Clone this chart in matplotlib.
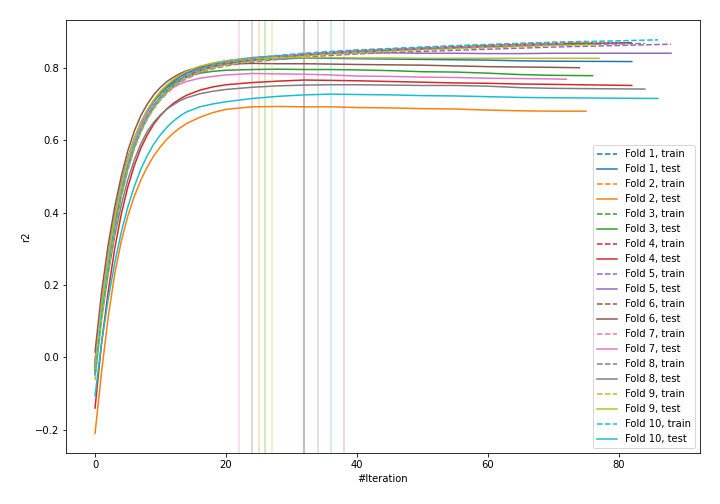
import matplotlib
matplotlib.use("Agg")
import matplotlib.pyplot as plt

knots = [0, 1, 2, 3, 4, 5, 6, 7, 8, 9, 10, 11, 12, 13, 14, 16, 18, 20, 24, 28, 32, 36, 40, 45, 50, 55, 60, 65, 70]
end_iter = [82, 75, 76, 82, 88, 74, 72, 84, 77, 86]
best_iter = [32, 25, 26, 32, 38, 24, 22, 34, 27, 36]

test_r2 = [
    [-0.02, 0.14, 0.27, 0.38, 0.47, 0.54, 0.60, 0.645, 0.68, 0.708, 0.73, 0.748, 0.763, 0.775, 0.785, 0.799, 0.809, 0.815, 0.821, 0.824, 0.827, 0.826, 0.825, 0.824, 0.823, 0.822, 0.821, 0.819, 0.818, 0.817],
    [-0.21, -0.04, 0.11, 0.23, 0.32, 0.39, 0.445, 0.49, 0.527, 0.557, 0.582, 0.603, 0.62, 0.634, 0.646, 0.663, 0.676, 0.685, 0.692, 0.693, 0.692, 0.692, 0.690, 0.689, 0.687, 0.686, 0.683, 0.681, 0.680, 0.680],
    [-0.01, 0.15, 0.28, 0.39, 0.48, 0.55, 0.605, 0.648, 0.682, 0.708, 0.729, 0.746, 0.759, 0.769, 0.776, 0.785, 0.790, 0.793, 0.795, 0.796, 0.795, 0.795, 0.794, 0.792, 0.789, 0.788, 0.785, 0.781, 0.779, 0.778],
    [-0.14, 0.04, 0.18, 0.30, 0.395, 0.47, 0.53, 0.578, 0.615, 0.645, 0.668, 0.687, 0.702, 0.714, 0.724, 0.738, 0.747, 0.753, 0.759, 0.763, 0.766, 0.765, 0.764, 0.762, 0.760, 0.758, 0.757, 0.755, 0.754, 0.751],
    [-0.01, 0.15, 0.28, 0.39, 0.478, 0.548, 0.604, 0.648, 0.683, 0.711, 0.733, 0.751, 0.766, 0.778, 0.788, 0.802, 0.812, 0.819, 0.828, 0.833, 0.836, 0.839, 0.841, 0.841, 0.840, 0.840, 0.839, 0.839, 0.840, 0.840],
    [0.015, 0.18, 0.31, 0.415, 0.50, 0.57, 0.625, 0.668, 0.70, 0.726, 0.746, 0.762, 0.774, 0.784, 0.792, 0.802, 0.807, 0.810, 0.812, 0.811, 0.811, 0.810, 0.809, 0.808, 0.807, 0.805, 0.803, 0.802, 0.801, 0.800],
    [-0.02, 0.15, 0.28, 0.385, 0.472, 0.54, 0.595, 0.638, 0.672, 0.698, 0.718, 0.734, 0.746, 0.755, 0.762, 0.771, 0.776, 0.780, 0.784, 0.783, 0.782, 0.780, 0.777, 0.776, 0.774, 0.773, 0.771, 0.770, 0.769, 0.768],
    [-0.03, 0.11, 0.23, 0.335, 0.42, 0.49, 0.545, 0.59, 0.625, 0.65, 0.670, 0.686, 0.698, 0.709, 0.717, 0.728, 0.735, 0.740, 0.746, 0.750, 0.752, 0.753, 0.753, 0.752, 0.751, 0.751, 0.749, 0.745, 0.743, 0.741],
    [-0.03, 0.14, 0.275, 0.385, 0.475, 0.547, 0.603, 0.648, 0.684, 0.712, 0.735, 0.753, 0.768, 0.780, 0.790, 0.804, 0.813, 0.819, 0.826, 0.828, 0.828, 0.828, 0.827, 0.827, 0.826, 0.826, 0.826, 0.826, 0.826, 0.826],
    [-0.106, 0.04, 0.16, 0.26, 0.345, 0.415, 0.472, 0.52, 0.558, 0.59, 0.615, 0.636, 0.653, 0.667, 0.678, 0.692, 0.700, 0.706, 0.715, 0.721, 0.725, 0.727, 0.726, 0.725, 0.723, 0.722, 0.720, 0.718, 0.717, 0.715],
]

train_r2 = [
    [-0.03, 0.125, 0.255, 0.365, 0.456, 0.528, 0.586, 0.631, 0.667, 0.696, 0.719, 0.738, 0.754, 0.767, 0.778, 0.794, 0.805, 0.813, 0.823, 0.830, 0.836, 0.841, 0.845, 0.849, 0.852, 0.856, 0.859, 0.862, 0.865, 0.869],
    [-0.05, 0.115, 0.245, 0.356, 0.449, 0.523, 0.582, 0.628, 0.665, 0.695, 0.719, 0.739, 0.755, 0.768, 0.780, 0.796, 0.807, 0.815, 0.825, 0.832, 0.838, 0.843, 0.848, 0.852, 0.856, 0.860, 0.863, 0.867, 0.870, 0.873],
    [-0.035, 0.12, 0.25, 0.36, 0.452, 0.525, 0.583, 0.628, 0.664, 0.694, 0.717, 0.736, 0.752, 0.765, 0.776, 0.792, 0.803, 0.811, 0.822, 0.830, 0.836, 0.841, 0.846, 0.850, 0.853, 0.857, 0.860, 0.863, 0.866, 0.868],
    [-0.04, 0.12, 0.25, 0.36, 0.452, 0.526, 0.585, 0.63, 0.666, 0.696, 0.719, 0.738, 0.754, 0.767, 0.778, 0.794, 0.805, 0.813, 0.824, 0.831, 0.837, 0.842, 0.846, 0.850, 0.854, 0.857, 0.861, 0.864, 0.866, 0.869],
    [-0.04, 0.12, 0.248, 0.357, 0.448, 0.52, 0.578, 0.623, 0.659, 0.688, 0.711, 0.730, 0.746, 0.759, 0.770, 0.786, 0.797, 0.805, 0.816, 0.823, 0.829, 0.834, 0.838, 0.842, 0.845, 0.848, 0.851, 0.854, 0.857, 0.865],
    [-0.03, 0.13, 0.26, 0.368, 0.458, 0.53, 0.588, 0.633, 0.668, 0.697, 0.720, 0.739, 0.754, 0.767, 0.778, 0.794, 0.805, 0.813, 0.823, 0.830, 0.836, 0.841, 0.845, 0.849, 0.853, 0.856, 0.859, 0.862, 0.865, 0.867],
    [-0.035, 0.125, 0.255, 0.365, 0.455, 0.528, 0.586, 0.631, 0.666, 0.695, 0.718, 0.737, 0.753, 0.766, 0.777, 0.794, 0.805, 0.813, 0.824, 0.831, 0.837, 0.842, 0.846, 0.850, 0.854, 0.857, 0.860, 0.863, 0.866, 0.867],
    [-0.045, 0.115, 0.245, 0.355, 0.447, 0.52, 0.579, 0.625, 0.661, 0.690, 0.713, 0.733, 0.749, 0.762, 0.773, 0.790, 0.801, 0.809, 0.820, 0.828, 0.834, 0.839, 0.843, 0.847, 0.851, 0.854, 0.857, 0.860, 0.863, 0.867],
    [-0.063, 0.10, 0.235, 0.347, 0.442, 0.517, 0.576, 0.623, 0.66, 0.689, 0.712, 0.732, 0.748, 0.761, 0.772, 0.788, 0.799, 0.807, 0.818, 0.826, 0.832, 0.837, 0.841, 0.845, 0.849, 0.852, 0.855, 0.858, 0.861, 0.864],
    [-0.05, 0.115, 0.245, 0.356, 0.45, 0.524, 0.583, 0.629, 0.666, 0.696, 0.720, 0.740, 0.756, 0.769, 0.781, 0.797, 0.808, 0.816, 0.826, 0.834, 0.840, 0.845, 0.849, 0.853, 0.857, 0.861, 0.864, 0.867, 0.870, 0.877],
]

fig, ax = plt.subplots(figsize=(10, 7), dpi=72)
fig.subplots_adjust(left=0.092, right=0.972, top=0.96, bottom=0.101)

for i in range(10):
    color = f"C{i}"
    x = knots + [end_iter[i]]
    ax.plot(x, train_r2[i], linestyle="--", color=color, label=f"Fold {i + 1}, train")
    ax.plot(x, test_r2[i], linestyle="-", color=color, label=f"Fold {i + 1}, test")
    ax.axvline(best_iter[i], color=color, alpha=0.3)

ax.set_xlabel("#Iteration")
ax.set_ylabel("r2")
ax.legend(loc="lower right")

fig.savefig("out.png")
